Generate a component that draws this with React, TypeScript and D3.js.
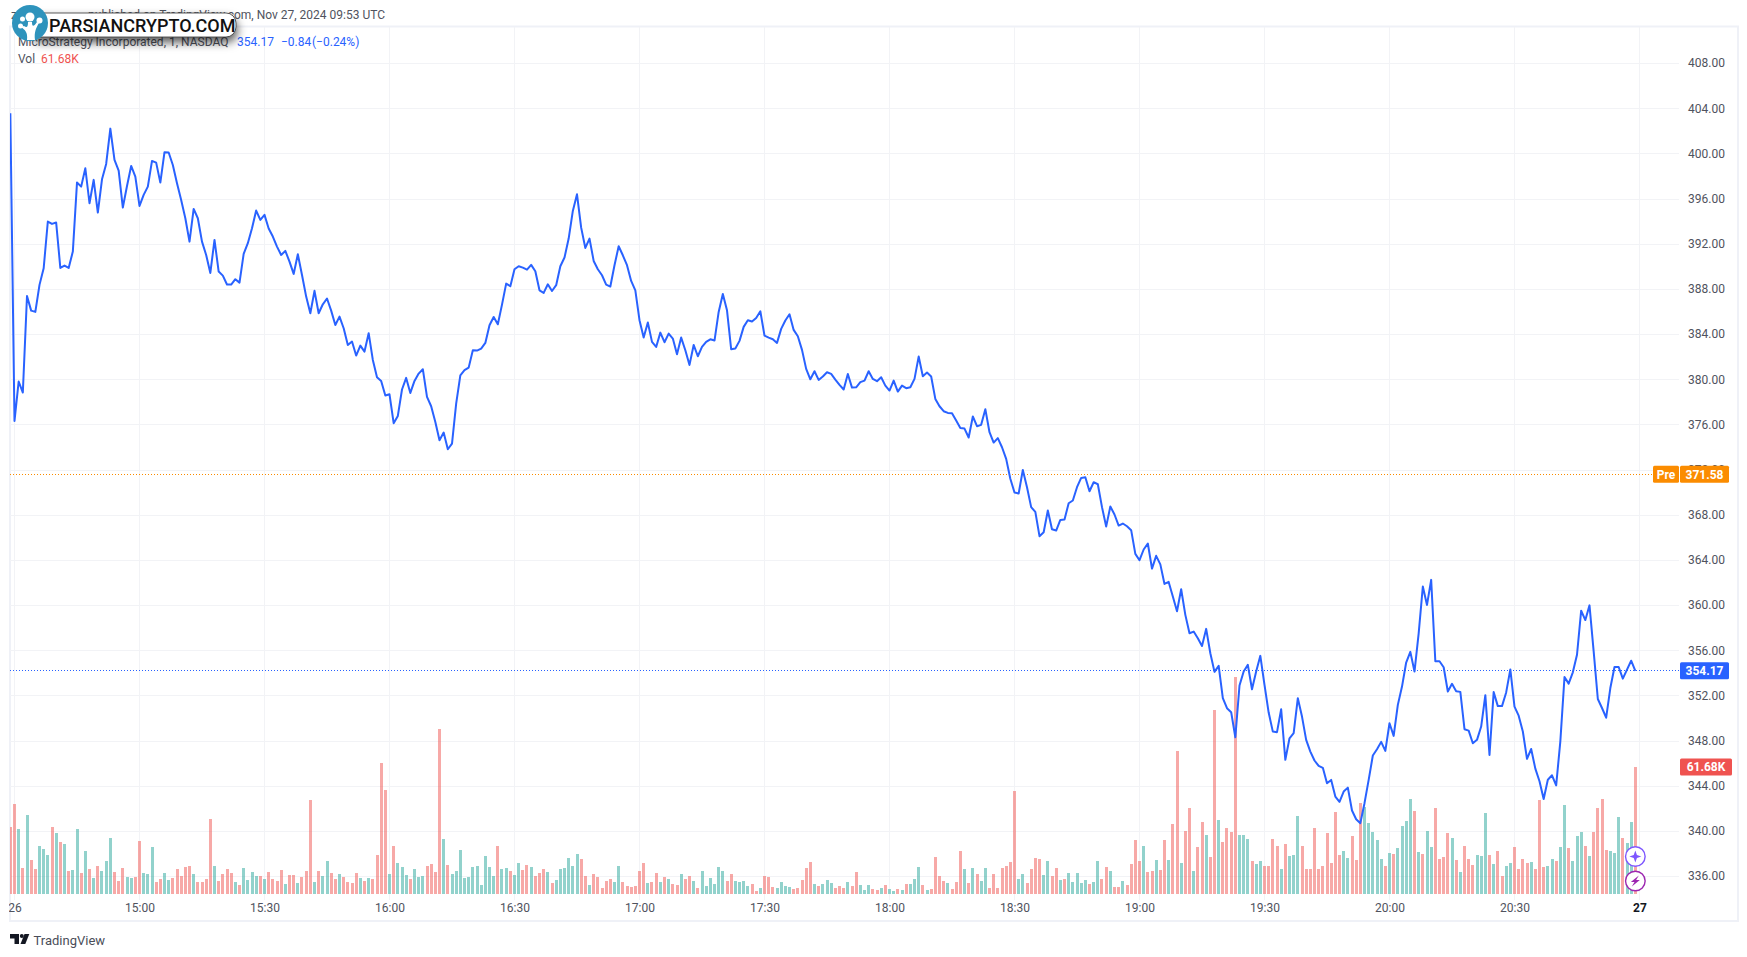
// App.tsx
import React, { useEffect, useRef } from 'react';
import * as d3 from 'd3';

// close price per minute, first entry is the 14:29 bar
const closes = [
  403.56, 376.31, 379.80, 378.82, 387.38, 386.08, 385.97, 388.36, 389.83, 393.97,
  393.76, 393.88, 389.86, 390.07, 389.86, 391.31, 397.42, 397.06, 398.69, 395.59,
  397.66, 394.76, 397.71, 399.07, 402.20, 399.43, 398.48, 395.21, 397.12, 398.89,
  397.95, 395.35, 396.33, 397.06, 399.34, 399.19, 397.42, 400.11, 400.08, 398.98,
  397.36, 395.88, 394.26, 392.19, 395.09, 394.26, 392.19, 391.01, 389.42, 392.34,
  389.54, 389.18, 388.39, 388.39, 388.86, 388.56, 391.10, 392.05, 393.37, 394.94,
  394.11, 394.56, 393.35, 392.64, 391.75, 391.01, 391.37, 390.42, 389.33, 391.07,
  389.24, 387.32, 385.85, 387.83, 385.85, 386.64, 387.15, 386.08, 384.81, 385.55,
  384.52, 383.04, 383.34, 382.10, 382.98, 382.45, 384.08, 381.71, 380.18, 379.85,
  378.56, 378.67, 376.11, 376.75, 379.09, 380.12, 378.79, 379.85, 380.50, 380.89,
  378.44, 377.61, 376.22, 374.60, 375.28, 373.80, 374.30, 377.85, 380.35, 380.80,
  381.03, 382.57, 382.54, 382.72, 383.22, 384.78, 385.52, 384.87, 386.61, 388.47,
  388.24, 389.74, 390.01, 389.89, 389.71, 390.13, 389.57, 387.88, 387.65, 388.41,
  387.82, 388.33, 390.01, 390.78, 392.46, 394.91, 396.38, 393.43, 391.63, 392.46,
  390.48, 389.74, 389.21, 388.38, 388.21, 390.10, 391.78, 390.98, 390.10, 388.71,
  387.88, 385.23, 383.69, 385.02, 383.31, 382.86, 384.13, 383.28, 384.04, 383.60,
  382.22, 383.69, 382.57, 381.27, 383.04, 382.04, 382.86, 383.31, 383.54, 383.43,
  385.96, 387.56, 386.11, 382.66, 382.72, 383.40, 384.64, 385.23, 385.11, 385.43,
  386.02, 383.87, 383.69, 383.54, 383.22, 384.46, 385.20, 385.76, 384.37, 383.81,
  382.60, 380.92, 380.00, 380.71, 379.94, 380.24, 380.62, 380.47, 379.97, 379.50,
  379.09, 380.47, 379.26, 379.29, 379.74, 379.88, 380.71, 380.03, 379.83, 380.18,
  379.44, 379.00, 379.88, 378.91, 379.44, 379.21, 379.29, 380.03, 382.01, 380.27,
  380.59, 380.24, 378.26, 377.61, 377.17, 377.02, 376.99, 376.34, 375.69, 375.63,
  374.84, 376.70, 375.84, 375.96, 377.35, 375.31, 374.39, 374.78, 373.98, 372.95,
  371.18, 369.97, 369.88, 371.97, 370.44, 368.67, 368.25, 366.10, 366.45, 368.37,
  366.72, 366.60, 367.54, 367.57, 369.02, 369.26, 370.44, 371.26, 371.32, 370.08,
  370.88, 370.70, 368.67, 366.95, 368.73, 368.02, 367.04, 367.22, 366.98, 366.63,
  364.53, 363.97, 364.92, 365.45, 363.23, 364.36, 363.60, 361.87, 362.05, 360.75,
  359.45, 361.40, 359.13, 357.50, 357.65, 357.06, 356.38, 357.89, 355.73, 354.08,
  354.61, 351.75, 350.86, 350.51, 348.29, 352.87, 354.11, 354.70, 352.54, 354.11,
  355.50, 352.93, 350.48, 348.79, 348.74, 350.77, 346.29, 348.20, 348.65, 351.75,
  350.12, 348.06, 347.02, 346.23, 345.75, 345.58, 344.22, 344.51, 343.04, 342.57,
  343.48, 343.83, 341.80, 341.03, 340.68, 342.45, 344.51, 346.67, 347.23, 347.88,
  347.08, 349.53, 348.41, 351.16, 352.78, 354.91, 355.85, 354.11, 357.50, 361.64,
  360.01, 362.23, 355.02, 355.02, 354.49, 352.34, 353.02, 352.37, 352.31, 349.00,
  348.88, 347.76, 348.06, 349.24, 352.02, 346.72, 352.29, 351.05, 351.05, 352.26,
  354.30, 351.00, 350.20, 348.80, 346.38, 347.25, 345.51, 344.39, 342.82, 344.53,
  344.92, 344.03, 347.93, 353.63, 353.04, 354.04, 355.60, 359.50, 358.67, 359.97,
  355.90, 351.68, 350.88, 350.02, 352.65, 354.51, 354.51, 353.48, 354.28, 355.07,
  354.17,
];

// volume per minute in thousands
const volumes = [
  32.5, 43.7, 31.6, 12.6, 38.4, 16.5, 12.1, 23.3, 21.9, 18.9,
  32.5, 29.6, 25.3, 24.3, 11.2, 11.7, 31.6, 10.2, 20.9, 12.1,
  7.8, 13.6, 11.2, 16.0, 27.2, 10.7, 6.3, 12.6, 8.3, 7.8,
  8.3, 25.7, 10.2, 9.7, 22.8, 5.8, 7.3, 10.2, 6.8, 7.8,
  12.1, 8.7, 13.1, 13.6, 9.7, 5.8, 5.8, 7.3, 36.4, 13.6,
  6.3, 9.7, 12.1, 10.2, 5.8, 4.4, 12.6, 6.8, 10.7, 8.7,
  8.7, 7.3, 10.7, 7.3, 6.3, 11.7, 4.9, 9.2, 9.2, 5.3,
  8.3, 11.2, 45.7, 5.8, 11.2, 8.7, 16.0, 10.2, 7.3, 9.7,
  8.3, 5.8, 5.3, 10.2, 7.8, 6.3, 7.8, 7.3, 18.9, 63.6,
  50.5, 9.7, 23.3, 15.1, 13.1, 9.2, 7.3, 12.1, 8.3, 8.7,
  13.6, 14.6, 10.7, 80.1, 26.7, 14.1, 9.7, 11.2, 21.4, 7.8,
  8.3, 13.1, 13.6, 4.4, 18.5, 13.1, 8.7, 23.3, 12.1, 12.6,
  11.2, 9.2, 15.1, 11.7, 14.1, 13.1, 8.7, 10.2, 12.1, 10.7,
  5.3, 6.8, 12.1, 12.6, 17.5, 13.6, 19.4, 17.0, 8.7, 4.4,
  9.7, 8.3, 2.9, 6.3, 7.3, 5.8, 13.6, 5.8, 3.9, 3.4,
  3.9, 11.2, 15.1, 5.3, 5.8, 10.2, 5.8, 8.3, 7.3, 4.9,
  4.4, 9.7, 7.3, 8.7, 6.3, 2.9, 11.2, 3.9, 7.8, 4.9,
  13.1, 11.2, 6.3, 9.7, 6.3, 5.8, 6.3, 3.9, 4.9, 1.5,
  2.9, 8.7, 8.3, 3.4, 2.9, 5.8, 3.9, 3.4, 2.4, 2.9,
  6.8, 12.6, 15.5, 4.9, 3.9, 4.9, 6.8, 5.3, 2.9, 3.9,
  2.9, 5.8, 3.9, 10.7, 4.4, 1.9, 4.4, 2.4, 1.9, 2.9,
  4.4, 2.4, 1.5, 2.4, 1.9, 4.9, 4.9, 7.3, 13.1, 4.4,
  1.9, 2.4, 18.0, 8.7, 6.3, 5.3, 2.4, 5.8, 20.9, 12.1,
  5.3, 12.6, 9.7, 6.3, 12.6, 2.9, 9.7, 2.9, 12.6, 13.6,
  15.5, 50.0, 7.3, 9.7, 5.3, 12.1, 17.5, 17.0, 9.2, 16.0,
  8.7, 12.6, 6.8, 7.3, 10.2, 5.8, 10.2, 5.3, 6.8, 4.9,
  5.8, 16.0, 7.3, 13.1, 11.2, 3.4, 3.4, 6.3, 4.4, 14.6,
  26.2, 16.0, 23.3, 10.7, 11.2, 16.5, 11.7, 26.2, 16.5, 34.0,
  69.5, 15.1, 30.6, 41.8, 11.2, 22.8, 35.0, 28.7, 18.0, 89.4,
  35.9, 25.3, 32.1, 30.1, 105.4, 28.7, 28.7, 26.7, 16.0, 14.6,
  16.0, 13.6, 13.6, 26.7, 23.3, 12.1, 24.3, 18.5, 18.9, 37.9,
  23.3, 12.1, 12.1, 32.1, 12.1, 13.6, 29.6, 15.1, 39.8, 18.9,
  20.9, 17.5, 28.2, 16.5, 44.2, 42.3, 34.5, 30.1, 26.2, 17.0,
  13.6, 19.9, 19.4, 22.3, 33.0, 35.5, 46.1, 40.3, 20.4, 19.4,
  30.6, 22.8, 41.8, 17.0, 18.0, 29.6, 27.2, 16.5, 10.7, 23.3,
  17.0, 14.1, 18.9, 18.5, 39.3, 18.9, 14.6, 20.9, 8.7, 13.6,
  15.1, 22.8, 12.1, 17.0, 15.1, 15.5, 12.1, 45.7, 13.1, 13.6,
  17.0, 16.0, 22.8, 43.2, 22.3, 16.0, 28.2, 30.1, 23.3, 18.5,
  30.1, 41.8, 46.1, 21.4, 20.9, 19.9, 37.4, 27.2, 24.8, 35.0,
  61.68,
];

// 1 = up minute, 0 = down minute
const upMinutes = [
  0, 0, 1, 0, 1, 0, 0, 1, 1, 1,
  0, 1, 0, 1, 0, 1, 1, 0, 1, 0,
  1, 0, 1, 1, 1, 0, 0, 0, 1, 1,
  0, 0, 1, 1, 1, 0, 0, 1, 1, 0,
  0, 0, 0, 0, 1, 0, 0, 0, 0, 1,
  0, 0, 0, 0, 1, 0, 1, 1, 1, 1,
  0, 1, 0, 0, 0, 0, 1, 0, 0, 1,
  0, 0, 0, 1, 0, 1, 1, 0, 0, 1,
  0, 0, 0, 0, 1, 0, 1, 0, 0, 0,
  0, 1, 0, 1, 1, 1, 0, 1, 1, 1,
  0, 0, 0, 0, 1, 0, 1, 1, 1, 1,
  1, 1, 1, 1, 1, 1, 1, 0, 1, 1,
  0, 1, 1, 0, 0, 1, 0, 0, 0, 1,
  0, 1, 1, 1, 1, 1, 1, 0, 0, 1,
  0, 0, 0, 0, 0, 1, 1, 0, 0, 0,
  0, 0, 0, 1, 0, 0, 1, 0, 1, 0,
  0, 1, 0, 0, 1, 0, 1, 1, 1, 1,
  1, 1, 0, 0, 1, 1, 1, 1, 0, 0,
  1, 0, 0, 0, 1, 1, 1, 1, 0, 0,
  0, 0, 0, 1, 0, 1, 1, 1, 0, 0,
  0, 1, 0, 0, 1, 1, 1, 0, 0, 1,
  0, 1, 1, 0, 1, 0, 1, 1, 1, 0,
  1, 0, 0, 0, 0, 1, 0, 0, 0, 1,
  0, 1, 0, 1, 1, 0, 0, 0, 0, 0,
  0, 0, 1, 1, 0, 0, 0, 0, 1, 1,
  0, 0, 1, 0, 1, 1, 1, 1, 1, 0,
  1, 1, 0, 0, 1, 0, 0, 1, 0, 0,
  0, 0, 1, 0, 0, 1, 0, 0, 1, 0,
  0, 1, 0, 0, 1, 0, 0, 1, 0, 0,
  1, 0, 0, 0, 0, 1, 1, 1, 0, 1,
  1, 0, 0, 0, 0, 1, 0, 1, 1, 1,
  0, 0, 0, 0, 0, 0, 0, 0, 0, 0,
  1, 1, 0, 0, 0, 1, 1, 1, 1, 1,
  0, 1, 0, 1, 1, 1, 1, 0, 1, 0,
  1, 1, 0, 0, 0, 0, 1, 0, 1, 0,
  0, 0, 1, 1, 1, 0, 1, 0, 0, 1,
  1, 0, 0, 0, 0, 1, 0, 0, 0, 1,
  1, 0, 1, 1, 0, 1, 1, 1, 0, 1,
  0, 0, 0, 0, 1, 1, 1, 0, 1, 1,
  0,
];

const priceTicks = [336, 340, 344, 348, 352, 356, 360, 364, 368, 372, 376, 380, 384, 388, 392, 396, 400, 404, 408];
// minutes after 14:30 and their labels
const timeTickMinutes = [0, 30, 60, 90, 120, 150, 180, 210, 240, 270, 300, 330, 360, 390];
const timeTickLabels = ['26', '15:00', '15:30', '16:00', '16:30', '17:00', '17:30', '18:00', '18:30', '19:00', '19:30', '20:00', '20:30', '27'];

const lastPrice = 354.17;
const prePrice = 371.58;
const lastVolume = 61.68;

const FONT = 'Roboto, sans-serif';
const BLUE = '#2962ff';
const ORANGE = '#fb8c00';
const RED = '#ef5350';
const TEXT = '#50535e';
const GRID = '#f2f3f6';
const BORDER = '#eff1f7';

const App: React.FC = () => {
  const svgRef = useRef<SVGSVGElement | null>(null);

  useEffect(() => {
    if (!svgRef.current) return;

    const pane = { left: 10, right: 1679, top: 27, bottom: 900 };

    const svg = d3.select(svgRef.current);
    svg.selectAll('*').remove();

    const x = d3.scaleLinear().domain([0, 30]).range([14.5, 139.5]);
    const y = d3.scaleLinear().domain([336, 404]).range([876, 108.3]);
    const yVol = d3.scaleLinear().domain([0, lastVolume]).range([894, 767]);

    const defs = svg.append('defs');
    defs.append('clipPath').attr('id', 'pane')
      .append('rect')
      .attr('x', pane.left).attr('y', pane.top)
      .attr('width', pane.right - pane.left).attr('height', pane.bottom - pane.top);
    const shadow = defs.append('filter').attr('id', 'pillShadow')
      .attr('x', '-10%').attr('y', '-100%').attr('width', '120%').attr('height', '320%');
    shadow.append('feDropShadow')
      .attr('dx', 1).attr('dy', 5).attr('stdDeviation', 5)
      .attr('flood-color', '#000').attr('flood-opacity', 0.65);

    // frame round the chart
    svg.append('rect')
      .attr('x', 10).attr('y', 26.5)
      .attr('width', 1728).attr('height', 894.5)
      .attr('fill', 'none').attr('stroke', BORDER).attr('stroke-width', 2);

    // grid
    const grid = svg.append('g').attr('shape-rendering', 'crispEdges').attr('stroke', GRID);
    grid.selectAll('line.h').data(priceTicks).enter().append('line')
      .attr('class', 'h')
      .attr('x1', pane.left).attr('x2', pane.right)
      .attr('y1', d => Math.round(y(d))).attr('y2', d => Math.round(y(d)));
    grid.selectAll('line.v').data(timeTickMinutes).enter().append('line')
      .attr('class', 'v')
      .attr('y1', pane.top).attr('y2', pane.bottom)
      .attr('x1', d => Math.floor(x(d))).attr('x2', d => Math.floor(x(d)));

    // volume
    const bars = svg.append('g').attr('clip-path', 'url(#pane)').attr('shape-rendering', 'crispEdges');
    bars.selectAll('rect').data(volumes).enter().append('rect')
      .attr('x', (d, i) => Math.round(x(i - 1) - 1.5))
      .attr('width', 3)
      .attr('y', d => yVol(d))
      .attr('height', d => yVol(0) - yVol(d))
      .attr('fill', (d, i) => (upMinutes[i] ? '#26a69a' : '#ef5350'))
      .attr('fill-opacity', 0.5);

    // last / pre price lines, snapped to the pixel so the dots stay sharp
    svg.append('line')
      .attr('x1', pane.left).attr('x2', 1653)
      .attr('y1', Math.floor(y(prePrice)) + 0.5).attr('y2', Math.floor(y(prePrice)) + 0.5)
      .attr('stroke', ORANGE).attr('stroke-dasharray', '1 2');
    svg.append('line')
      .attr('x1', pane.left).attr('x2', pane.right)
      .attr('y1', Math.floor(y(lastPrice)) + 0.5).attr('y2', Math.floor(y(lastPrice)) + 0.5)
      .attr('stroke', BLUE).attr('stroke-dasharray', '1 2');

    // price line
    const line = d3.line<number>()
      .x((d, i) => x(i - 1))
      .y(d => y(d));
    svg.append('path')
      .datum(closes)
      .attr('clip-path', 'url(#pane)')
      .attr('d', line)
      .attr('fill', 'none')
      .attr('stroke', BLUE)
      .attr('stroke-width', 2)
      .attr('stroke-linejoin', 'round');

    // axes
    const priceAxis = svg.append('g')
      .attr('transform', `translate(${pane.right},0)`)
      .call(d3.axisRight(y)
        .tickValues(priceTicks)
        .tickSize(0)
        .tickPadding(9)
        .tickFormat(d => d3.format('.2f')(d as number)));
    priceAxis.select('.domain').remove();
    priceAxis.selectAll('text')
      .attr('fill', TEXT)
      .style('font', `12px ${FONT}`);

    const timeAxis = svg.append('g')
      .attr('transform', `translate(0,${pane.bottom})`)
      .call(d3.axisBottom(x)
        .tickValues(timeTickMinutes)
        .tickSize(0)
        .tickPadding(3)
        .tickFormat((d, i) => timeTickLabels[i]));
    timeAxis.select('.domain').remove();
    timeAxis.selectAll('text')
      .attr('fill', TEXT)
      .style('font', `12px ${FONT}`);
    timeAxis.selectAll('g.tick')
      .filter((d, i) => i === timeTickLabels.length - 1)
      .select('text')
      .attr('fill', '#131722')
      .style('font-weight', '700');
    // hides the part of "26" left of the pane
    svg.append('rect')
      .attr('x', 0).attr('y', pane.bottom)
      .attr('width', 9).attr('height', 20)
      .attr('fill', '#fff');

    // price tags
    const tag = (tx: number, tw: number, cy: number, fill: string, label: string) => {
      svg.append('rect')
        .attr('x', tx).attr('y', cy - 8.5)
        .attr('width', tw).attr('height', 17)
        .attr('rx', 1.5)
        .attr('fill', fill);
      svg.append('text')
        .attr('x', tx + tw / 2).attr('y', cy + 4.2)
        .attr('text-anchor', 'middle')
        .attr('fill', '#fff')
        .style('font', `700 12px ${FONT}`)
        .text(label);
    };
    tag(1653, 26, y(prePrice), ORANGE, 'Pre');
    tag(1680, 49, y(prePrice), ORANGE, d3.format('.2f')(prePrice));
    tag(1680, 49, y(lastPrice), BLUE, d3.format('.2f')(lastPrice));
    tag(1680, 52, yVol(lastVolume), RED, `${lastVolume}K`);

    // header text
    const header = (tx: number, ty: number, fill: string, label: string, anchor = 'start') => {
      svg.append('text')
        .attr('x', tx).attr('y', ty)
        .attr('fill', fill)
        .attr('text-anchor', anchor)
        .style('font', `12px ${FONT}`)
        .text(label);
    };
    header(11, 19, TEXT, 'z');
    header(385, 19, TEXT, 'published on TradingView.com, Nov 27, 2024 09:53 UTC', 'end');
    header(18, 46, TEXT, 'MicroStrategy Incorporated, 1, NASDAQ');
    header(237, 46, BLUE, '354.17');
    header(281, 46, BLUE, '−0.84');
    header(312, 46, BLUE, '(−0.24%)');
    header(18, 63, TEXT, 'Vol');
    header(41, 63, RED, '61.68K');

    // watermark
    const mark = svg.append('g');
    mark.append('rect')
      .attr('x', 30).attr('y', 13)
      .attr('width', 206).attr('height', 24)
      .attr('rx', 10)
      .attr('fill', '#fff')
      .attr('stroke', '#333')
      .attr('stroke-width', 0.8)
      .attr('filter', 'url(#pillShadow)');
    mark.append('text')
      .attr('x', 49).attr('y', 31.5)
      .attr('fill', '#111')
      .style('font', `500 18px ${FONT}`)
      .text('PARSIANCRYPTO.COM');
    mark.append('circle').attr('cx', 30).attr('cy', 23).attr('r', 18).attr('fill', '#2e93bc');
    const tree = mark.append('g').attr('fill', '#fff');
    tree.append('path').attr('d', 'M27 40 C28 32 25 30 21 27 L24 26 C27 28 28 27 28 22 L32 22 C32 26 33 28 37 22 L39 23 C36 28 34 32 35 40 Z');
    tree.append('circle').attr('cx', 30).attr('cy', 17).attr('r', 4.5);
    tree.append('circle').attr('cx', 22.5).attr('cy', 19).attr('r', 2.5);
    tree.append('circle').attr('cx', 20.5).attr('cy', 26).attr('r', 2.5);
    tree.append('circle').attr('cx', 39.5).attr('cy', 20.5).attr('r', 3);

    // badges on the last bar
    const badgeX = x(389);
    svg.append('circle')
      .attr('cx', badgeX).attr('cy', 856.5).attr('r', 9.8)
      .attr('fill', '#fff').attr('stroke', '#7e57ff').attr('stroke-width', 1.4);
    svg.append('path')
      .attr('transform', `translate(${badgeX},856.5)`)
      .attr('d', 'M0 -6 L1.6 -1.6 L6 0 L1.6 1.6 L0 6 L-1.6 1.6 L-6 0 L-1.6 -1.6 Z')
      .attr('fill', '#7e57ff');
    svg.append('circle')
      .attr('cx', badgeX).attr('cy', 881).attr('r', 9.8)
      .attr('fill', '#fff').attr('stroke', '#9c27b0').attr('stroke-width', 1.4);
    svg.append('path')
      .attr('transform', `translate(${badgeX},881)`)
      .attr('d', 'M3.5 -5.5 L-4.5 1 L-0.8 1 L-3.5 5.5 L4.5 -1 L0.8 -1 Z')
      .attr('fill', '#9c27b0');

    // TradingView logo
    const logo = svg.append('g').attr('fill', '#131722');
    logo.append('path').attr('d', 'M10 934h9v10h-4.5v-5.5H10z');
    logo.append('circle').attr('cx', 21.8).attr('cy', 936).attr('r', 2);
    logo.append('path').attr('d', 'M24.5 934h4.8l-4 10h-4.8z');
    svg.append('text')
      .attr('x', 33.5).attr('y', 944.5)
      .attr('fill', '#4a4e59')
      .style('font', `13px ${FONT}`)
      .text('TradingView');
  }, []);

  return (
    <svg
      ref={svgRef}
      width={1747}
      height={957}
      style={{ position: 'fixed', left: 0, top: 0, display: 'block', background: '#fff' }}
    />
  );
};

export default App;
